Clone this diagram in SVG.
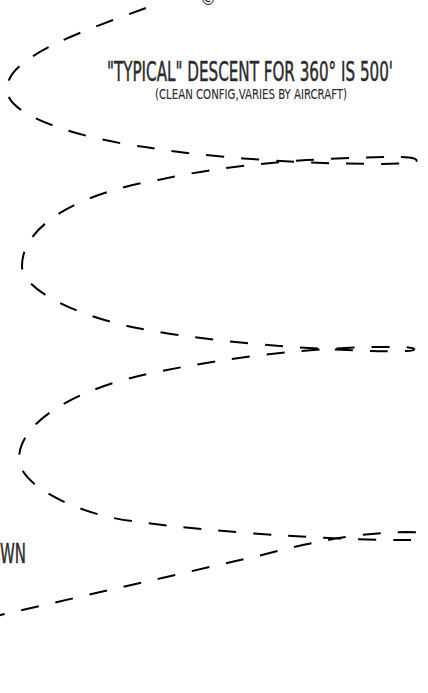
<svg xmlns="http://www.w3.org/2000/svg" width="428" height="693" viewBox="0 0 428 693">
  <style>
    .lbl { font-family: "Liberation Sans Narrow", "DejaVu Sans Condensed", "Liberation Sans", sans-serif; fill: #2b2b2b; stroke: #2b2b2b; stroke-width: 0.45; }
    .small { stroke-width: 0.1; }
    .spiral { fill: none; stroke: #000; stroke-width: 2; stroke-dasharray: 18 17; stroke-linecap: butt; }
  </style>
  <rect width="428" height="693" fill="#fff"/>
  <g id="connectors">
    <path class="spiral" d="M146,8 C80,32 5,58 7,90 C7,118 90,140 145,147 C233,162 370,166 410,163 C420,162 420,157 400,157 C320,157 230,164 158,180 C80,193 22,225 22,266 C22,292 85,318 137,328 C220,345 370,353 406,351 C418,351 418,347 398,347 C320,346 230,357 157,372 C80,387 19,420 19,459 C19,486 80,515 132,521 C220,534 370,541 404,540 C450,541 450,532 405,532 C350,533 300,545 262,555 L-30,622"/>
  </g>
  <g id="title">
    <text class="lbl" x="107" y="81" font-size="26" textLength="286" lengthAdjust="spacingAndGlyphs">"TYPICAL" DESCENT FOR 360° IS 500'</text>
  </g>
  <g id="subtitle">
    <text class="lbl small" x="155" y="98.5" font-size="13.5" textLength="192" lengthAdjust="spacingAndGlyphs">(CLEAN CONFIG,VARIES BY AIRCRAFT)</text>
  </g>
  <g id="side-label">
    <text class="lbl" x="26" y="563" font-size="27" text-anchor="end" textLength="26" lengthAdjust="spacingAndGlyphs">WN</text>
  </g>
  <g id="copyright">
    <text class="lbl small" x="208" y="5" font-size="18" text-anchor="middle">©</text>
  </g>
</svg>
